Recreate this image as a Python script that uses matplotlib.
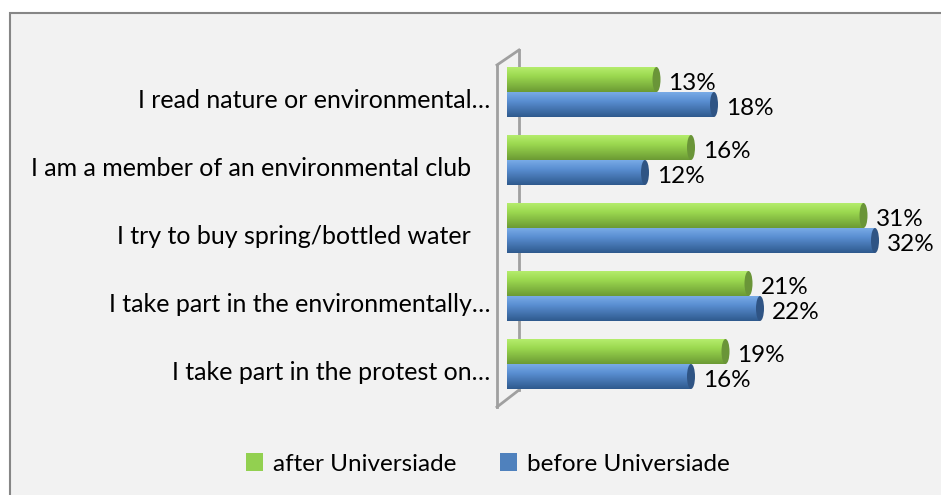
import matplotlib.pyplot as plt
import numpy as np
from matplotlib.patches import Rectangle, Ellipse, PathPatch, Patch
from matplotlib.path import Path
from matplotlib.lines import Line2D
from matplotlib.colors import to_rgb

plt.rcParams['font.family'] = ['Lato', 'DejaVu Sans']

# data
categories = [
    "I read nature or environmental\u2026",
    "I am a member of an environmental club   ",
    "I try to buy spring/bottled water   ",
    "I take part in the environmentally\u2026",
    "I take part in the protest on\u2026",
]
after = [13, 16, 31, 21, 19]
before = [18, 12, 32, 22, 16]
series_names = ["after Universiade", "before Universiade"]

W, H = 941, 495
PX_PER_PCT = 11.5


def fx(x):
    return x / W


def fy(y):
    return 1 - y / H


fig = plt.figure(figsize=(W / 100, H / 100), dpi=100)
fig.patch.set_facecolor('white')

# chart area background with border
fig.add_artist(Rectangle((fx(10), fy(H + 5)), fx(W + 5 - 10), (H + 5 - 13) / H,
                         transform=fig.transFigure, facecolor='#F2F2F2',
                         edgecolor='#868686', linewidth=1.5, zorder=-3))

# 3D wall outline
wall = dict(color='#A0A0A0', linewidth=2, transform=fig.transFigure, zorder=-1)
fig.add_artist(Line2D([fx(497), fx(497)], [fy(65), fy(407)], **wall))
fig.add_artist(Line2D([fx(497), fx(519)], [fy(65), fy(50)], **wall))
fig.add_artist(Line2D([fx(519), fx(519)], [fy(50), fy(390)], **wall))
fig.add_artist(Line2D([fx(497), fx(519)], [fy(407), fy(390)], **wall))

# axes in pixel layout: x=0 at px 507, y category spacing 68 px
ax_left, ax_right, ax_top, ax_bot = 507, 931, 40, 420
ax = fig.add_axes([fx(ax_left), fy(ax_bot), (ax_right - ax_left) / W,
                   (ax_bot - ax_top) / H])
ax.set_facecolor('none')
ax.axis('off')

cat_step = 68
bar_h = 25 / cat_step
rx = 4 / PX_PER_PCT
ry = bar_h / 2

green = dict(top='#B4EC6C', mid='#9CD950', bot='#6C9B34', cap='#6A9538')
blue = dict(top='#78AAE6', mid='#5A8FD2', bot='#2F5A8E', cap='#2F5484')


def cylinder(v, yc, c):
    y0, y1 = yc - ry, yc + ry
    t = np.linspace(0, 1, 40)
    cols = np.array([to_rgb(c['top']), to_rgb(c['mid']), to_rgb(c['bot'])])
    stops = np.array([0.0, 0.35, 1.0])
    grad = np.stack([np.interp(t, stops, cols[:, k]) for k in range(3)], axis=1)
    grad = grad[:, None, :]
    # body with rounded left end
    th = np.linspace(np.pi / 2, 3 * np.pi / 2, 20)
    verts = [(rx * np.cos(a), yc - ry * np.sin(a)) for a in th]
    verts += [(v, y1), (v, y0), verts[0]]
    path = Path(verts, [Path.MOVETO] + [Path.LINETO] * (len(verts) - 2) + [Path.CLOSEPOLY])
    clip = PathPatch(path, facecolor='none', edgecolor='none')
    ax.add_patch(clip)
    im = ax.imshow(grad, extent=(-rx, v, y1, y0), aspect='auto',
                   interpolation='bilinear', zorder=2)
    im.set_clip_path(clip)
    ax.add_patch(Ellipse((v, yc), 2 * rx, bar_h, facecolor=c['cap'],
                         edgecolor='none', zorder=3))


for i in range(len(categories)):
    yg = i - ry
    yb = i + ry
    cylinder(after[i], yg, green)
    cylinder(before[i], yb, blue)
    ax.annotate(f"{after[i]}%", (after[i], yg), xytext=(12, -4),
                textcoords='offset pixels', ha='left', va='center',
                fontsize=17.5, color='black', zorder=5)
    ax.annotate(f"{before[i]}%", (before[i], yb), xytext=(12, -4),
                textcoords='offset pixels', ha='left', va='center',
                fontsize=17.5, color='black', zorder=5)
    fig.text(fx(490), fy(92 + i * cat_step + 9), categories[i], ha='right',
             va='center', fontsize=18, color='black')

ax.set_xlim(0, (ax_right - ax_left) / PX_PER_PCT)
ax.set_ylim((ax_bot - 92) / cat_step, (ax_top - 92) / cat_step)

handles = [Patch(facecolor='#92D050', edgecolor='none'),
           Patch(facecolor='#4F81BD', edgecolor='none')]
fig.legend(handles, series_names, loc='center', bbox_to_anchor=(fx(488), fy(464)),
           ncol=2, frameon=False, fontsize=17.5, handlelength=0.7, handleheight=0.7,
           handletextpad=0.4, columnspacing=1.8, borderpad=0)

fig.savefig('out.png', dpi=100, facecolor='white')
